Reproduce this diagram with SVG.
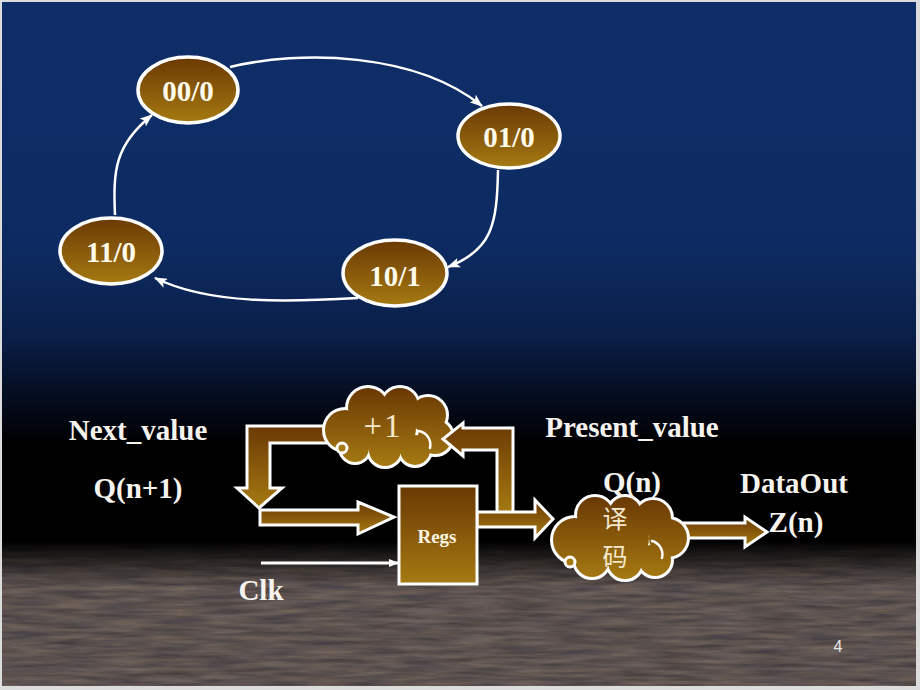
<svg xmlns="http://www.w3.org/2000/svg" width="920" height="690" viewBox="0 0 920 690">
<style>
.st{fill:url(#gold);stroke:#fff;stroke-width:3.5}
.stt{font-family:"Liberation Serif","Times New Roman",serif;font-weight:bold;font-size:29px;fill:#fffbea;text-anchor:middle}
.lbl{font-family:"Liberation Serif","Times New Roman",serif;font-weight:bold;font-size:29px;fill:#f6f3ee;text-anchor:middle}
.edge{fill:none;stroke:#fff;stroke-width:2.5}
.arr{fill:url(#gold);stroke:#fff;stroke-width:3;stroke-linejoin:miter}
.cl-o{stroke:#fff;stroke-width:6}
.crease{fill:none;stroke:#fff;stroke-width:2.5;stroke-linecap:round}
.cl-txt{fill:#f5e8cc;text-anchor:middle}
</style>
<defs>
<linearGradient id="bg" x1="0" y1="0" x2="0" y2="1">
<stop offset="0" stop-color="#0f2e69"/>
<stop offset="0.45" stop-color="#0d2b62"/>
<stop offset="0.62" stop-color="#0a1f48"/>
<stop offset="0.74" stop-color="#040b1c"/>
<stop offset="0.82" stop-color="#000"/>
<stop offset="1" stop-color="#000"/>
</linearGradient>
<linearGradient id="fade" x1="0" y1="0" x2="0" y2="1">
<stop offset="0.3" stop-color="#000" stop-opacity="1"/>
<stop offset="0.95" stop-color="#000" stop-opacity="0"/>
</linearGradient>
<linearGradient id="gold" x1="0" y1="0" x2="0" y2="1">
<stop offset="0" stop-color="#6a3904"/>
<stop offset="1" stop-color="#a67a12"/>
</linearGradient>
<linearGradient id="goldA" gradientUnits="userSpaceOnUse" x1="0" y1="388" x2="0" y2="466">
<stop offset="0" stop-color="#6a3904"/>
<stop offset="1" stop-color="#a67a12"/>
</linearGradient>
<linearGradient id="goldB" gradientUnits="userSpaceOnUse" x1="0" y1="497" x2="0" y2="580">
<stop offset="0" stop-color="#6a3904"/>
<stop offset="1" stop-color="#a67a12"/>
</linearGradient>
<filter id="stone" x="0" y="0" width="100%" height="100%" color-interpolation-filters="sRGB">
<feTurbulence type="fractalNoise" baseFrequency="0.02 0.22" numOctaves="4" seed="7" result="n"/>
<feColorMatrix in="n" type="matrix" values="0.26 0 0 0 0.23  0.22 0.02 0 0 0.2  0.16 0.06 0 0 0.2  0 0 0 0 1"/>
</filter>
<marker id="ah" markerUnits="userSpaceOnUse" markerWidth="13" markerHeight="10" refX="12" refY="5" orient="auto">
<path d="M0,0 L13,5 L0,10 L3,5 Z" fill="#fff"/>
</marker>
<marker id="ahc" markerUnits="userSpaceOnUse" markerWidth="10" markerHeight="10" refX="9" refY="5" orient="auto">
<path d="M0,1 L10,5 L0,9 Z" fill="#fff"/>
</marker>
</defs>

<g id="background">
<rect x="0" y="0" width="920" height="690" fill="#dcdcdc"/>
<rect x="2" y="2" width="914" height="540" fill="url(#bg)"/>
<rect x="2" y="520" width="914" height="166" filter="url(#stone)"/>
<rect x="2" y="520" width="914" height="70" fill="url(#fade)"/>
</g>

<g id="state-edges">
<path class="edge" d="M230,67 C300,50 415,52 482,106" marker-end="url(#ah)"/>
<path class="edge" d="M498,170 C497,225 492,250 448,267" marker-end="url(#ah)"/>
<path class="edge" d="M358,298 C290,302 210,305 155,278" marker-end="url(#ah)"/>
<path class="edge" d="M115,215 C113,170 115,145 152,115" marker-end="url(#ah)"/>
</g>

<g id="s00">
<ellipse class="st" cx="188" cy="90" rx="50" ry="33"/>
<text class="stt" x="188" y="101">00/0</text>
</g>
<g id="s01">
<ellipse class="st" cx="509" cy="136" rx="51" ry="32"/>
<text class="stt" x="509" y="147">01/0</text>
</g>
<g id="s10">
<ellipse class="st" cx="395" cy="273" rx="52" ry="33"/>
<text class="stt" x="395" y="286">10/1</text>
</g>
<g id="s11">
<ellipse class="st" cx="111" cy="251" rx="51" ry="33"/>
<text class="stt" x="111" y="262">11/0</text>
</g>

<g id="connectors">
<polygon id="a-next" class="arr" points="335,426 247,426 247,488 237,488 259,508 282,488 270,488 270,443 335,443"/>
<polygon id="a-in" class="arr" points="260,510 358,510 358,502 394,517 358,534 358,525 260,525"/>
<polygon id="a-out" class="arr" points="680,523 745,523 745,517 767,532 745,547 745,538 680,538"/>
<line id="clk" x1="261" y1="563" x2="398" y2="563" stroke="#fff" stroke-width="3" marker-end="url(#ahc)"/>
</g>

<g id="inc">
<g fill="url(#goldA)">
<g class="cl-o">
<circle cx="345" cy="430" r="20"/><circle cx="368" cy="408" r="20"/><circle cx="400" cy="406" r="18"/><circle cx="428" cy="415" r="18"/><circle cx="435" cy="437" r="17"/><circle cx="415" cy="450" r="15"/><circle cx="385" cy="450" r="16"/><circle cx="355" cy="448" r="14"/>
</g>
<circle cx="345" cy="430" r="20"/><circle cx="368" cy="408" r="20"/><circle cx="400" cy="406" r="18"/><circle cx="428" cy="415" r="18"/><circle cx="435" cy="437" r="17"/><circle cx="415" cy="450" r="15"/><circle cx="385" cy="450" r="16"/><circle cx="355" cy="448" r="14"/><circle cx="388" cy="428" r="28"/>
</g>
<path class="crease" d="M419,431 A14,14 0 0 1 430,448"/>
<circle cx="342" cy="448" r="5" fill="#a67a12" stroke="#fff" stroke-width="3"/>
<text class="cl-txt" x="383" y="437" font-family="Liberation Serif,serif" font-size="33" letter-spacing="2">+1</text>
</g>

<g id="fb">
<polygon class="arr" points="513,514 513,428 463,428 463,423 443,439 463,456 463,450 497,450 497,514"/>
</g>
<polygon id="a-pv" class="arr" points="477,512 535,512 535,500 553,519 535,538 535,527 477,527"/>

<g id="regs">
<rect x="399" y="486" width="78" height="98" fill="url(#gold)" stroke="#fff" stroke-width="3"/>
<text x="437" y="543" font-family="Liberation Serif,serif" font-weight="bold" font-size="19" fill="#fff6e0" text-anchor="middle">Regs</text>
</g>

<g id="decode">
<g fill="url(#goldB)">
<g class="cl-o">
<circle cx="575" cy="540" r="22"/><circle cx="595" cy="515" r="18"/><circle cx="625" cy="513" r="16"/><circle cx="653" cy="518" r="18"/><circle cx="668" cy="538" r="19"/><circle cx="655" cy="560" r="16"/><circle cx="625" cy="562" r="17"/><circle cx="592" cy="560" r="17"/>
</g>
<circle cx="575" cy="540" r="22"/><circle cx="595" cy="515" r="18"/><circle cx="625" cy="513" r="16"/><circle cx="653" cy="518" r="18"/><circle cx="668" cy="538" r="19"/><circle cx="655" cy="560" r="16"/><circle cx="625" cy="562" r="17"/><circle cx="592" cy="560" r="17"/><circle cx="619" cy="538" r="30"/>
</g>
<path class="crease" d="M652,541 A14,14 0 0 1 662,558"/>
<circle cx="570" cy="562" r="5" fill="#a67a12" stroke="#fff" stroke-width="3"/>
<text class="cl-txt" x="615" y="528" font-family="Noto Sans CJK SC,sans-serif" font-size="25">译</text>
<text class="cl-txt" x="615" y="566" font-family="Noto Sans CJK SC,sans-serif" font-size="25">码</text>
</g>

<g id="labels">
<text class="lbl" x="138" y="440">Next_value</text>
<text class="lbl" x="138" y="498">Q(n+1)</text>
<text class="lbl" x="632" y="437">Present_value</text>
<text class="lbl" x="632" y="492">Q(n)</text>
<text class="lbl" x="794" y="493">DataOut</text>
<text class="lbl" x="796" y="532">Z(n)</text>
<text class="lbl" x="261" y="600">Clk</text>
<text x="838" y="652" font-family="Liberation Sans,Arial,sans-serif" font-size="16" fill="#e8e8e8" text-anchor="middle">4</text>
</g>
</svg>
